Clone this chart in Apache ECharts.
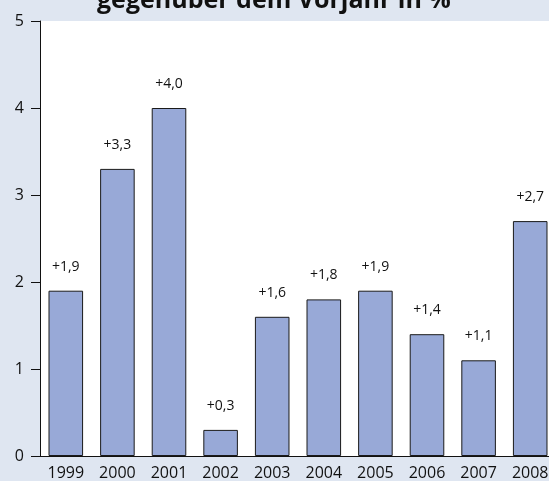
<!DOCTYPE html>
<html>
<head>
<meta charset="utf-8">
<script src="https://cdn.jsdelivr.net/npm/echarts@6/dist/echarts.min.js"></script>
<style>
  html, body { margin: 0; padding: 0; background: #dfe6f1; }
  #chart { width: 549px; height: 481px; }
</style>
</head>
<body>
<div id="chart"></div>
<script>
// Veränderung gegenüber dem Vorjahr in %
const years = ['1999', '2000', '2001', '2002', '2003', '2004', '2005', '2006', '2007', '2008'];
const changes = [1.9, 3.3, 4.0, 0.3, 1.6, 1.8, 1.9, 1.4, 1.1, 2.7];
const yTicks = [0, 1, 2, 3, 4, 5];

const fontFamily = '"Open Sans", "DejaVu Sans", sans-serif';
const chart = echarts.init(document.getElementById('chart'), null, { renderer: 'canvas' });

chart.setOption({
  backgroundColor: '#dfe6f1',
  animation: false,
  title: {
    text: 'gegenüber dem Vorjahr in %',
    left: 97,
    top: -12,
    padding: 0,
    textStyle: { fontFamily, fontSize: 25, fontWeight: 'bold', color: '#111' }
  },
  grid: {
    left: 40, top: 21, right: -7, bottom: 25,
    outerBoundsMode: 'none',
    containLabel: false,
    show: true, backgroundColor: '#ffffff', borderWidth: 0
  },
  xAxis: {
    type: 'category',
    data: years,
    axisLine: { show: true, lineStyle: { color: '#111', width: 1 } },
    axisTick: { show: false },
    axisLabel: { fontFamily, fontSize: 16, color: '#111', margin: 9 }
  },
  yAxis: {
    type: 'value',
    min: yTicks[0],
    max: yTicks[yTicks.length - 1],
    interval: 1,
    axisLine: { show: true, lineStyle: { color: '#111', width: 1 } },
    axisTick: { show: true, length: 9, lineStyle: { color: '#111' } },
    splitLine: { show: false },
    axisLabel: { fontFamily, fontSize: 16, color: '#111', margin: 16 }
  },
  series: [{
    type: 'bar',
    data: changes,
    barCategoryGap: '33%',
    itemStyle: { color: '#98a9d7', borderColor: '#1a1a1a', borderWidth: 1 },
    label: {
      show: true,
      position: 'top',
      distance: 17,
      fontFamily, fontSize: 14, color: '#111',
      formatter: p => '+' + p.value.toFixed(1).replace('.', ',')
    }
  }]
});
</script>
</body>
</html>
